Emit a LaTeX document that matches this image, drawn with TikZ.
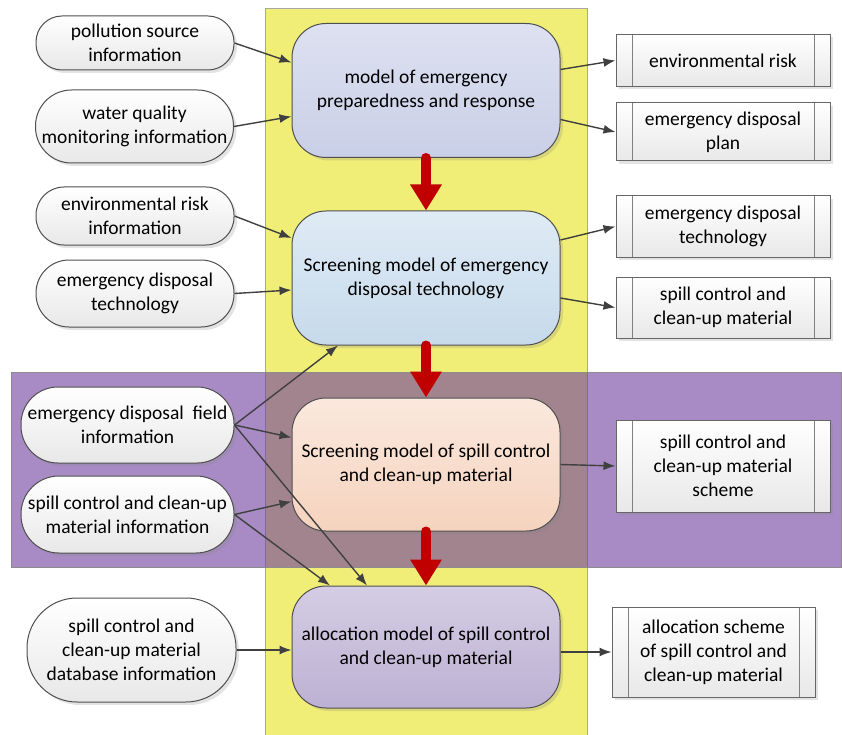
\documentclass[tikz,border=0pt]{standalone}
\usepackage{fontspec}
\setmainfont{Carlito}
\usetikzlibrary{arrows.meta,shadows}
\definecolor{cLine}{HTML}{404040}
\definecolor{cEdge}{HTML}{4F4F4F}
\definecolor{cYellow}{HTML}{F1EE78}
\definecolor{cPurple}{HTML}{6E3E9D}
\definecolor{cRed}{HTML}{C00000}
\definecolor{cPrepTop}{HTML}{DDE1F1}
\definecolor{cPrepBot}{HTML}{C9CFE7}
\definecolor{cTechTop}{HTML}{DFEBF5}
\definecolor{cTechBot}{HTML}{C6DAEB}
\definecolor{cMatTop}{HTML}{FBE8DD}
\definecolor{cMatBot}{HTML}{F5D3BE}
\definecolor{cAllocTop}{HTML}{D4CDE4}
\definecolor{cAllocBot}{HTML}{BDB1D3}
\tikzset{
  blk/.style={draw=cEdge, line width=1pt, align=center, inner sep=1pt,
              font=\fontsize{19.5}{24}\selectfont,
              drop shadow={shadow xshift=3pt, shadow yshift=-3pt, opacity=0.22}},
  term/.style={blk, rounded corners=#1, minimum width=198pt,
               top color=white, bottom color=black!9},
  model/.style={blk, rounded corners=34pt, minimum width=268pt},
  proc/.style={blk, draw=black!60, minimum width=214pt,
               top color=white, bottom color=black!9,
               path picture={
                 \draw[black!50, line width=1pt]
                   ([xshift=16pt]path picture bounding box.north west) --
                   ([xshift=16pt]path picture bounding box.south west)
                   ([xshift=-16pt]path picture bounding box.north east) --
                   ([xshift=-16pt]path picture bounding box.south east);}},
  ar/.style={-{Latex[length=12pt,width=9pt]}, line width=1.4pt, cLine},
  fat/.style={-{Triangle[length=26pt,width=30pt]}, line width=10pt, cRed, line cap=round},
}

\begin{document}
\begin{tikzpicture}[x=1pt, y=-1pt]
    \useasboundingbox (0,0) rectangle (842,735);
    % frames
    \filldraw[fill=cYellow, draw=black!35] (265,8) rectangle (587,745);
    \filldraw[fill=cPurple, fill opacity=0.6, draw=black!45] (11,372) rectangle (841,567);
    % inputs
    \node[term=26pt, minimum height=54pt] (t1) at (135,43) {pollution source\\information};
    \node[term=36pt, minimum height=73pt] (t2) at (134.5,126.5) {water quality\\monitoring information};
    \node[term=28pt, minimum height=58pt] (t3) at (135,216) {environmental risk\\information};
    \node[term=33pt, minimum height=67pt] (t4) at (135,293.5) {emergency disposal\\technology};
    \node[term=37pt, minimum width=213pt, minimum height=76pt] (t5) at (127.5,425) {emergency disposal\ \ field\\information};
    \node[term=38pt, minimum width=213pt, minimum height=77pt] (t6) at (127.5,514.5) {spill control and clean-up\\material information};
    \node[term=50pt, minimum width=209pt, minimum height=104pt] (t7) at (131.5,650) {spill control and\\clean-up material\\database information};
    % models
    \node[model, minimum height=134pt, top color=cPrepTop, bottom color=cPrepBot] (A) at (426,90.5)
      {model of emergency\\preparedness and response};
    \node[model, minimum height=134pt, top color=cTechTop, bottom color=cTechBot] (B) at (426,278)
      {Screening model of emergency\\disposal technology};
    \node[model, minimum height=133pt, top color=cMatTop, bottom color=cMatBot] (C) at (426,464.5)
      {Screening model of spill control\\and clean-up material};
    \node[model, minimum height=122pt, top color=cAllocTop, bottom color=cAllocBot] (D) at (426,647)
      {allocation model of spill control\\and clean-up material};
    % outputs
    \node[proc, minimum height=52pt] (R1) at (723,60.5) {environmental risk};
    \node[proc, minimum height=58pt] (R2) at (723,132) {emergency disposal\\plan};
    \node[proc, minimum height=61pt] (R3) at (723,226.5) {emergency disposal\\technology};
    \node[proc, minimum height=61pt] (R4) at (723,307.5) {spill control and\\clean-up material};
    \node[proc, minimum height=92pt] (R5) at (723,466) {spill control and\\clean-up material\\scheme};
    \node[proc, minimum width=203pt, minimum height=90pt] (R6) at (713.5,652)
      {allocation scheme\\of spill control and\\clean-up material};
    % main flow
    \draw[fat] (A.south) -- (B.north);
    \draw[fat] (B.south) -- (C.north);
    \draw[fat] (C.south) -- (D.north);
    % inputs to models
    \draw[ar] (t1.east) -- ([yshift=28pt]A.west);
    \draw[ar] (t2.east) -- ([yshift=-26pt]A.west);
    \draw[ar] (t3.east) -- ([yshift=40pt]B.west);
    \draw[ar] (t4.east) -- ([yshift=-12pt]B.west);
    \draw[ar] (t5.east) -- ([xshift=-88pt]B.south);
    \draw[ar] (t5.east) -- ([yshift=27pt]C.west);
    \draw[ar] (t5.east) -- ([xshift=-59pt]D.north);
    \draw[ar] (t6.east) -- ([yshift=-37pt]C.west);
    \draw[ar] (t6.east) -- ([xshift=-96pt]D.north);
    \draw[ar] (t7.east) -- (D.west |- t7.east);
    % models to outputs
    \draw[ar] ([yshift=21pt]A.east) -- (R1.west);
    \draw[ar] ([yshift=-29pt]A.east) -- (R2.west);
    \draw[ar] ([yshift=38pt]B.east) -- (R3.west);
    \draw[ar] ([yshift=-20pt]B.east) -- (R4.west);
    \draw[ar] (C.east) -- (R5.west);
    \draw[ar] (D.east |- R6.west) -- (R6.west);
  \end{tikzpicture}
\end{document}
